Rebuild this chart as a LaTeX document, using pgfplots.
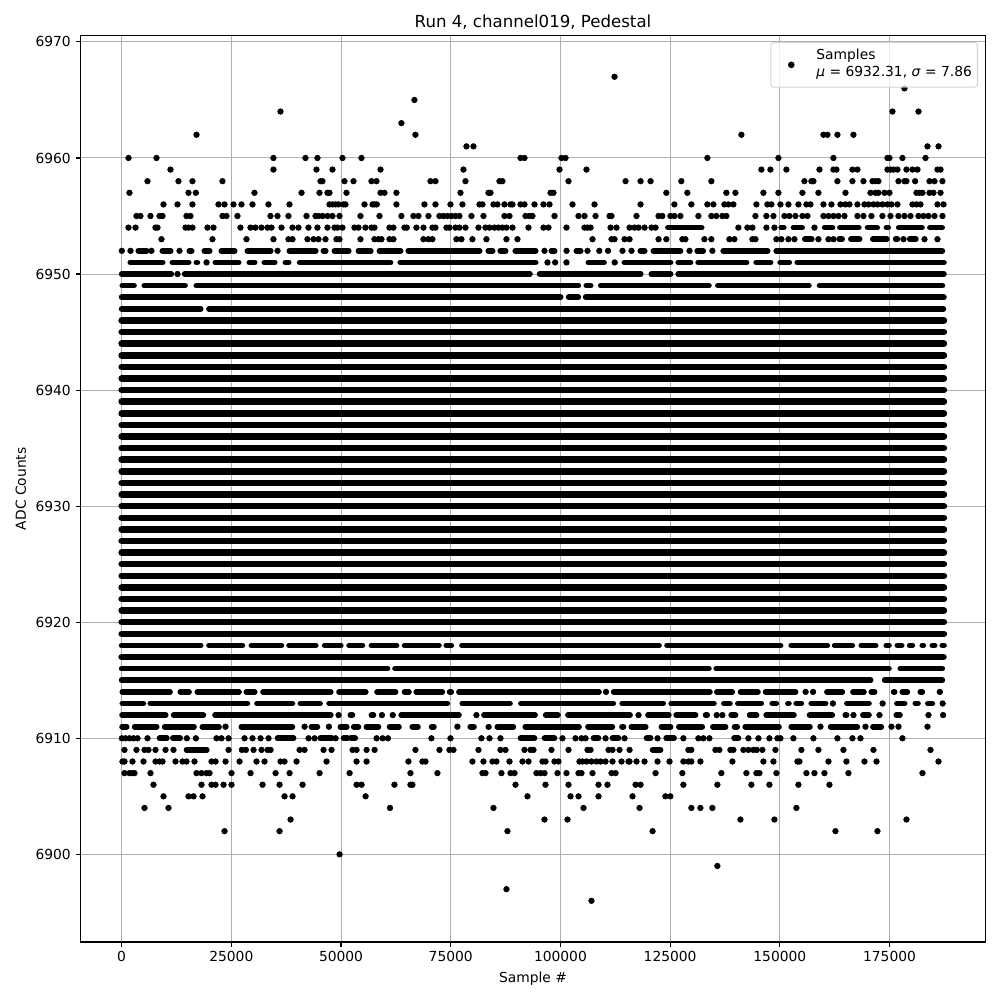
\documentclass[border=0pt]{standalone}
\usepackage{fontspec}
\setmainfont{DejaVu Sans}
\usepackage{pgfplots}
\pgfplotsset{compat=1.18}

\pgfplotsset{
    seg/.style={forget plot, black, line width=4.1pt, line cap=round, no markers, unbounded coords=jump},
    solid row/.style={seg, line width=4.7pt},
}

\begin{document}
\begin{tikzpicture}
\path[use as bounding box] (-58.18pt,-41.92pt) rectangle (664.52pt,680.78pt);
\begin{axis}[
    anchor=south west,
    at={(0,0)},
    scale only axis,
    width=654.04pt,
    height=655.1pt,
    xmin=-9375, xmax=196875,
    ymin=6892.45, ymax=6970.55,
    xtick={0,25000,50000,75000,100000,125000,150000,175000},
    ytick={6900,6910,6920,6930,6940,6950,6960,6970},
    scaled x ticks=false,
    scaled y ticks=false,
    /pgf/number format/fixed,
    /pgf/number format/precision=0,
    /pgf/number format/1000 sep={},
    /pgf/number format/assume math mode=true,
    tick label style={font=\fontsize{10}{12}\selectfont},
    label style={font=\fontsize{10}{12}\selectfont},
    title style={font=\fontsize{12}{14}\selectfont, yshift=-5pt},
    tick align=outside,
    tick pos=lower,
    major tick length=3.5pt,
    tick style={black, line width=0.8pt},
    axis line style={black, line width=0.8pt},
    grid=major,
    grid style={color={rgb,255:red,176;green,176;blue,176}, line width=0.75pt},
    title={Run 4, channel019, Pedestal},
    xlabel={Sample \#},
    ylabel={ADC Counts},
    legend style={
        at={(1,1)}, anchor=north east, xshift=-5.4pt, yshift=-4.7pt,
        draw={rgb,255:red,204;green,204;blue,204}, draw opacity=0.8,
        fill=white, fill opacity=0.8, text opacity=1,
        rounded corners=2pt, line width=0.8pt,
        font=\fontsize{10}{12.3}\selectfont,
        cells={anchor=west},
        inner xsep=2pt, inner ysep=2pt,
        minimum height=28.2pt,
    },
]
% rows that are solid from end to end
\addplot[solid row] coordinates {
(0,6919)(187400,6919)(0,nan)(0,6920)(187400,6920)(0,nan)(0,6921)(187400,6921)(0,nan)(0,6922)(187400,6922)(0,nan)
(0,6923)(187400,6923)(0,nan)(0,6924)(187400,6924)(0,nan)(0,6925)(187400,6925)(0,nan)(0,6926)(187400,6926)(0,nan)
(0,6927)(187400,6927)(0,nan)(0,6928)(187400,6928)(0,nan)(0,6929)(187400,6929)(0,nan)(0,6930)(187400,6930)(0,nan)
(0,6931)(187400,6931)(0,nan)(0,6932)(187400,6932)(0,nan)(0,6933)(187400,6933)(0,nan)(0,6934)(187400,6934)(0,nan)
(0,6935)(187400,6935)(0,nan)(0,6936)(187400,6936)(0,nan)(0,6937)(187400,6937)(0,nan)(0,6938)(187400,6938)(0,nan)
(0,6939)(187400,6939)(0,nan)(0,6940)(187400,6940)(0,nan)(0,6941)(187400,6941)(0,nan)(0,6942)(187400,6942)(0,nan)
(0,6943)(187400,6943)(0,nan)(0,6944)(187400,6944)(0,nan)(0,6945)(187400,6945)(0,nan)(0,6946)(187400,6946)(0,nan)
(0,6917)(187300,6917)(0,nan)
};
% runs of overlapping samples, upper rows
\addplot[seg] coordinates {
(0,6947)(18020,6947)(0,nan)(19900,6947)(187300,6947)(0,nan)
(0,6948)(100060,6948)(0,nan)(101870,6948)(104090,6948)(0,nan)(105740,6948)(187400,6948)(0,nan)
(150,6949)(2820,6949)(0,nan)(5160,6949)(14450,6949)(0,nan)(17020,6949)(104090,6949)(0,nan)(105900,6949)(106900,6949)(0,nan)(109170,6949)(133840,6949)(0,nan)(135880,6949)(156640,6949)(0,nan)(159060,6949)(187060,6949)(0,nan)
(0,6950)(11330,6950)(0,nan)(14360,6950)(93060,6950)(0,nan)(95260,6950)(118300,6950)(0,nan)(120720,6950)(125100,6950)(0,nan)(126840,6950)(187400,6950)(0,nan)
(1970,6951)(9360,6951)(0,nan)(11550,6951)(15280,6951)(0,nan)(17020,6951)(17260,6951)(0,nan)(21350,6951)(26680,6951)(0,nan)(29100,6951)(30330,6951)(0,nan)(32520,6951)(34890,6951)(0,nan)(37310,6951)(38080,6951)(0,nan)(40580,6951)(61300,6951)(0,nan)(63490,6951)(94360,6951)(0,nan)(106360,6951)(109940,6951)(0,nan)(114560,6951)(125100,6951)(0,nan)(126840,6951)(129660,6951)(0,nan)(131400,6951)(142430,6951)(0,nan)(144620,6951)(147900,6951)(0,nan)(150090,6951)(152160,6951)(0,nan)(153970,6951)(187400,6951)(0,nan)
(3800,6952)(5710,6952)(0,nan)(9270,6952)(11180,6952)(0,nan)(15420,6952)(15970,6952)(0,nan)(18840,6952)(20070,6952)(0,nan)(22720,6952)(25770,6952)(0,nan)(28650,6952)(33980,6952)(0,nan)(38220,6952)(44240,6952)(0,nan)(45980,6952)(46520,6952)(0,nan)(48480,6952)(51760,6952)(0,nan)(53960,6952)(56780,6952)(0,nan)(58740,6952)(63580,6952)(0,nan)(65320,6952)(81590,6952)(0,nan)(83560,6952)(84560,6952)(0,nan)(86290,6952)(87520,6952)(0,nan)(89710,6952)(94360,6952)(0,nan)(97920,6952)(98690,6952)(0,nan)(103620,6952)(104620,6952)(0,nan)(118210,6952)(119210,6952)(0,nan)(121180,6952)(127380,6952)(0,nan)(131170,6952)(132550,6952)(0,nan)(137100,6952)(147220,6952)(0,nan)(149180,6952)(187040,6952)(0,nan)
(155700,6953)(157300,6953)(0,nan)(163500,6953)(164200,6953)(0,nan)(166200,6953)(168200,6953)(0,nan)(171200,6953)(174400,6953)(0,nan)(176400,6953)(176800,6953)(0,nan)(179600,6953)(181000,6953)(0,nan)
(124500,6954)(132200,6954)(0,nan)(150300,6954)(150900,6954)(0,nan)(153100,6954)(155100,6954)(0,nan)(160200,6954)(162000,6954)(0,nan)(163700,6954)(168000,6954)(0,nan)(170000,6954)(172200,6954)(0,nan)(174300,6954)(174700,6954)(0,nan)(177100,6954)(182400,6954)(0,nan)(184200,6954)(187000,6954)(0,nan)
};
% runs of overlapping samples, lower rows
\addplot[seg] coordinates {
(0,6916)(60600,6916)(0,nan)(62300,6916)(133840,6916)(0,nan)(135500,6916)(174880,6916)(0,nan)(177450,6916)(187040,6916)(0,nan)
(0,6915)(170700,6915)(0,nan)(173880,6915)(187040,6915)(0,nan)
(0,6918)(18020,6918)(0,nan)(19910,6918)(27520,6918)(0,nan)(29560,6918)(36410,6918)(0,nan)(38150,6918)(44240,6918)(0,nan)(46280,6918)(49940,6918)(0,nan)(51830,6918)(54880,6918)(0,nan)(56920,6918)(62670,6918)(0,nan)(64480,6918)(72320,6918)(0,nan)(73980,6918)(75130,6918)(0,nan)(77550,6918)(122480,6918)(0,nan)(124290,6918)(150180,6918)(0,nan)(152600,6918)(160820,6918)(0,nan)(162480,6918)(166520,6918)(0,nan)(168560,6918)(171840,6918)(0,nan)(174260,6918)(174880,6918)(0,nan)(176770,6918)(177770,6918)(0,nan)(179580,6918)(180200,6918)(0,nan)(182470,6918)(182710,6918)(0,nan)(184750,6918)(185290,6918)(0,nan)(187030,6918)(187420,6918)(0,nan)
(150,6914)(11030,6914)(0,nan)(13370,6914)(15360,6914)(0,nan)(17250,6914)(26760,6914)(0,nan)(28420,6914)(30330,6914)(0,nan)(32220,6914)(47660,6914)(0,nan)(49540,6914)(55640,6914)(0,nan)(58210,6914)(62440,6914)(0,nan)(64480,6914)(65480,6914)(0,nan)(67140,6914)(73080,6914)(0,nan)(74740,6914)(75130,6914)(0,nan)(76870,6914)(108800,6914)(0,nan)(112130,6914)(134070,6914)(0,nan)(135650,6914)(139160,6914)(0,nan)(141050,6914)(145010,6914)(0,nan)(146750,6914)(153600,6914)(0,nan)(160730,6914)(164240,6914)(0,nan)(166660,6914)(169180,6914)(0,nan)(170840,6914)(171610,6914)(0,nan)(175930,6914)(176170,6914)(0,nan)(177910,6914)(179060,6914)(0,nan)(182010,6914)(182480,6914)(0,nan)
(150,6913)(4950,6913)(0,nan)(6530,6913)(28660,6913)(0,nan)(30850,6913)(38920,6913)(0,nan)(40730,6913)(45230,6913)(0,nan)(47270,6913)(74220,6913)(0,nan)(77630,6913)(88510,6913)(0,nan)(91000,6913)(112060,6913)(0,nan)(114080,6913)(123430,6913)(0,nan)(125240,6913)(134980,6913)(0,nan)(137250,6913)(138630,6913)(0,nan)(140440,6913)(145770,6913)(0,nan)(148270,6913)(149190,6913)(0,nan)(151840,6913)(152080,6913)(0,nan)(153740,6913)(154890,6913)(0,nan)(157160,6913)(160440,6913)(0,nan)(165290,6913)(170320,6913)(0,nan)(176690,6913)(178450,6913)(0,nan)(180870,6913)(181490,6913)(0,nan)(183760,6913)(184760,6913)(0,nan)
(100,6912)(10040,6912)(0,nan)(11850,6912)(18630,6912)(0,nan)(21280,6912)(47660,6912)(0,nan)(52130,6912)(52600,6912)(0,nan)(56920,6912)(57390,6912)(0,nan)(63720,6912)(76880,6912)(0,nan)(82570,6912)(94210,6912)(0,nan)(96640,6912)(99450,6912)(0,nan)(101720,6912)(115870,6912)(0,nan)(119960,6912)(124720,6912)(0,nan)(126380,6912)(130800,6912)(0,nan)(133070,6912)(133460,6912)(0,nan)(138920,6912)(139920,6912)(0,nan)(143100,6912)(144710,6912)(0,nan)(146900,6912)(153220,6912)(0,nan)(156780,6912)(161960,6912)(0,nan)(164910,6912)(165230,6912)(0,nan)(168940,6912)(170320,6912)(0,nan)(176540,6912)(177390,6912)(0,nan)
(100,6911)(1150,6911)(0,nan)(2960,6911)(7990,6911)(0,nan)(9800,6911)(16500,6911)(0,nan)(18390,6911)(22200,6911)(0,nan)(27280,6911)(38920,6911)(0,nan)(43240,6911)(44620,6911)(0,nan)(49850,6911)(51310,6911)(0,nan)(52890,6911)(53970,6911)(0,nan)(55780,6911)(58530,6911)(0,nan)(61060,6911)(63200,6911)(0,nan)(66230,6911)(67530,6911)(0,nan)(70640,6911)(71180,6911)(0,nan)(79450,6911)(80300,6911)(0,nan)(83560,6911)(83720,6911)(0,nan)(85610,6911)(89270,6911)(0,nan)(91990,6911)(104240,6911)(0,nan)(106280,6911)(111840,6911)(0,nan)(114030,6911)(114360,6911)(0,nan)(116160,6911)(119440,6911)(0,nan)(123000,6911)(125100,6911)(0,nan)(126990,6911)(132320,6911)(0,nan)(134740,6911)(137640,6911)(0,nan)(139680,6911)(140300,6911)(0,nan)(142110,6911)(149800,6911)(0,nan)(152600,6911)(156870,6911)(0,nan)(161570,6911)(167660,6911)(0,nan)(171220,6911)(173130,6911)(0,nan)
(8630,6910)(10300,6910)(0,nan)(11670,6910)(13340,6910)(0,nan)(35530,6910)(39180,6910)(0,nan)(45260,6910)(47920,6910)(0,nan)(50580,6910)(51490,6910)(0,nan)(52250,6910)(53240,6910)(0,nan)(90900,6910)(94090,6910)(0,nan)(96370,6910)(98650,6910)(0,nan)(107540,6910)(108680,6910)(0,nan)(111870,6910)(113240,6910)(0,nan)(119620,6910)(120540,6910)(0,nan)(124100,6910)(125900,6910)(0,nan)(139570,6910)(140560,6910)(0,nan)
(14780,6909)(19420,6909)(0,nan)(121000,6909)(122820,6909)(0,nan)
};
% single samples that stand apart
\addplot[only marks, mark=*, mark size=2.05pt, mark options={fill=black, draw=none},
    legend image code/.code={\fill[black, fill opacity=1, overlay] (0pt,0pt) circle (2.05pt); \path (-12.4pt,0pt) (15.75pt,0pt);}] coordinates {
(112330,6967)(178410,6966)(66730,6965)
(36200,6964)(175670,6964)(181600,6964)
(63760,6963)
(17060,6962)(66960,6962)(141240,6962)(159940,6962)(160850,6962)(163130,6962)(166780,6962)
(78580,6961)(80180,6961)(183650,6961)(186160,6961)
(1560,6960)(7940,6960)(34600,6960)(41900,6960)(44630,6960)(50330,6960)(54660,6960)(90900,6960)(91810,6960)(100240,6960)(101160,6960)(133490,6960)(149680,6960)(162220,6960)(174530,6960)(174990,6960)(177950,6960)(183200,6960)
(11130,6959)(34600,6959)(44400,6959)(48050,6959)(59000,6959)(77900,6959)(99790,6959)(105940,6959)(145800,6959)(147860,6959)(151500,6959)(159030,6959)(162220,6959)(162900,6959)(166550,6959)(167690,6959)(174530,6959)(175220,6959)(175900,6959)(176810,6959)(178860,6959)(180230,6959)(181370,6959)(185930,6959)(186620,6959)
(5890,6958)(12950,6958)(16140,6958)(22980,6958)(45320,6958)(45770,6958)(50790,6958)(52840,6958)(56940,6958)(58080,6958)(70380,6958)(71520,6958)(78360,6958)(86110,6958)(86790,6958)(101840,6958)(114840,6958)(118260,6958)(120540,6958)(127560,6958)(134400,6958)(155610,6958)(157200,6958)(157660,6958)(163130,6958)(166550,6958)(169060,6958)(171110,6958)(171800,6958)(172480,6958)(177040,6958)(178410,6958)(178860,6958)(180840,6958)(184110,6958)(185250,6958)(187070,6958)
(1790,6957)(15230,6957)(16900,6957)(30270,6957)(41000,6957)(45090,6957)(46910,6957)(47370,6957)(51240,6957)(59000,6957)(59900,6957)(62620,6957)(77220,6957)(83600,6957)(84060,6957)(97740,6957)(98420,6957)(124140,6957)(128930,6957)(137820,6957)(139880,6957)(146260,6957)(149680,6957)(155150,6957)(158800,6957)(164960,6957)(170660,6957)(171800,6957)(172480,6957)(173850,6957)(174990,6957)(181140,6957)(181830,6957)(182510,6957)(184110,6957)(185020,6957)(186620,6957)
(9540,6956)(12730,6956)(16140,6956)(22070,6956)(23440,6956)(25490,6956)(27310,6956)(29820,6956)(33460,6956)(38250,6956)(47370,6956)(48050,6956)(48730,6956)(49420,6956)(50560,6956)(51010,6956)(55350,6956)(57170,6956)(57620,6956)(58150,6956)(62620,6956)(69010,6956)(71520,6956)(74940,6956)(77670,6956)(81550,6956)(82230,6956)(84740,6956)(85650,6956)(87250,6956)(88620,6956)(89070,6956)(90900,6956)(91810,6956)(94090,6956)(96140,6956)(97510,6956)(102750,6956)(107770,6956)(118260,6956)(125970,6956)(129840,6956)(133490,6956)(134860,6956)(137370,6956)(138280,6956)(139420,6956)(144660,6956)(147170,6956)(148080,6956)(150140,6956)(151960,6956)(154240,6956)(156060,6956)(156980,6956)(159940,6956)(161760,6956)(163820,6956)(164960,6956)(165870,6956)(167690,6956)(169290,6956)(170200,6956)(171340,6956)(172250,6956)(173390,6956)(174530,6956)(175440,6956)(176810,6956)(180230,6956)(181140,6956)(182060,6956)(185930,6956)(187300,6956)
(3380,6955)(4290,6955)(6570,6955)(8620,6955)(9310,6955)(14780,6955)(15690,6955)(22980,6955)(23890,6955)(26400,6955)(33920,6955)(35520,6955)(38020,6955)(42130,6955)(44180,6955)(44860,6955)(45770,6955)(46910,6955)(48050,6955)(49650,6955)(54430,6955)(58760,6955)(63760,6955)(66500,6955)(67640,6955)(69920,6955)(72430,6955)(73340,6955)(74250,6955)(75160,6955)(76080,6955)(76990,6955)(79720,6955)(82460,6955)(87250,6955)(88390,6955)(92040,6955)(92950,6955)(93630,6955)(98650,6955)(104120,6955)(105490,6955)(108000,6955)(111190,6955)(111640,6955)(117340,6955)(122360,6955)(123230,6955)(125060,6955)(125970,6955)(127340,6955)(131440,6955)(134400,6955)(135540,6955)(136910,6955)(137820,6955)(144440,6955)(146940,6955)(148540,6955)(151050,6955)(152190,6955)(153560,6955)(155150,6955)(156290,6955)(159940,6955)(161080,6955)(162220,6955)(163360,6955)(164730,6955)(167690,6955)(169060,6955)(170880,6955)(173390,6955)(175220,6955)(177040,6955)(178410,6955)(179780,6955)(181600,6955)(182740,6955)(183880,6955)(185250,6955)(187070,6955)
(1560,6954)(3160,6954)(7710,6954)(8170,6954)(14550,6954)(15230,6954)(16140,6954)(19560,6954)(20930,6954)(27080,6954)(29360,6954)(30500,6954)(31870,6954)(33240,6954)(34150,6954)(36430,6954)(38940,6954)(40300,6954)(42580,6954)(44630,6954)(46910,6954)(48510,6954)(49190,6954)(50330,6954)(53060,6954)(53980,6954)(55570,6954)(56940,6954)(57620,6954)(61040,6954)(61940,6954)(64450,6954)(64980,6954)(67180,6954)(68780,6954)(70830,6954)(71520,6954)(74020,6954)(74710,6954)(76080,6954)(76990,6954)(78360,6954)(81320,6954)(82920,6954)(83830,6954)(84970,6954)(85880,6954)(86790,6954)(87700,6954)(89070,6954)(92720,6954)(96140,6954)(97280,6954)(101380,6954)(105490,6954)(106170,6954)(106860,6954)(111420,6954)(112780,6954)(115750,6954)(116890,6954)(117800,6954)(119170,6954)(120760,6954)(121680,6954)(140560,6954)(142610,6954)(143750,6954)(146940,6954)(148770,6954)(157890,6954)
(9080,6953)(20700,6953)(28450,6953)(34600,6953)(38020,6953)(38940,6953)(42350,6953)(43720,6953)(44860,6953)(46460,6953)(48960,6953)(49650,6953)(54430,6953)(57620,6953)(58530,6953)(59220,6953)(61040,6953)(61940,6953)(68780,6953)(69920,6953)(70830,6953)(76300,6953)(77440,6953)(79950,6953)(83140,6953)(87700,6953)(90210,6953)(107310,6953)(111640,6953)(112330,6953)(114610,6953)(115750,6953)(122360,6953)(124140,6953)(127790,6953)(128480,6953)(132810,6953)(134400,6953)(138510,6953)(139650,6953)(143750,6953)(144440,6953)(149220,6953)(150360,6953)(151960,6953)(153330,6953)(158800,6953)(161080,6953)(162220,6953)(178180,6953)(182970,6953)(185930,6953)
(40,6952)(2020,6952)(6800,6952)(13190,6952)(35530,6952)(96370,6952)(101400,6952)(106170,6952)(108870,6952)(110850,6952)(114150,6952)(116200,6952)(129420,6952)(134630,6952)
(19350,6951)(97050,6951)(98800,6951)(101380,6951)(112370,6951)
(12730,6950)
(110390,6914)(155880,6914)(157580,6914)(186460,6914)
(162100,6913)(173430,6913)(187110,6913)
(49440,6912)(59320,6912)(61790,6912)(80860,6912)(117800,6912)(135620,6912)(136910,6912)(166780,6912)(172710,6912)(183880,6912)(187220,6912)
(23680,6911)(41690,6911)(47240,6911)(76530,6911)(159260,6911)(169520,6911)(175440,6911)(177040,6911)(183650,6911)
(40,6910)(880,6910)(1790,6910)(2700,6910)(3610,6910)(5890,6910)(14860,6910)(16910,6910)(21620,6910)(22760,6910)(24360,6910)(28010,6910)(29830,6910)(31660,6910)(33480,6910)(42600,6910)(43970,6910)(48760,6910)(58100,6910)(59470,6910)(60700,6910)(70600,6910)(74940,6910)(82000,6910)(83830,6910)(86340,6910)(100470,6910)(103440,6910)(104800,6910)(105720,6910)(110280,6910)(114610,6910)(122130,6910)(128020,6910)(131440,6910)(132580,6910)(133950,6910)(142840,6910)(145120,6910)(147630,6910)(149450,6910)(150140,6910)(153100,6910)(157660,6910)(163130,6910)(166550,6910)(168380,6910)(177950,6910)
(650,6909)(3380,6909)(5210,6909)(6120,6909)(7720,6909)(10000,6909)(11820,6909)(24360,6909)(27400,6909)(28310,6909)(30060,6909)(31880,6909)(33250,6909)(33940,6909)(40550,6909)(41690,6909)(46020,6909)(47840,6909)(52630,6909)(53540,6909)(55820,6909)(57650,6909)(66960,6909)(72430,6909)(74710,6909)(75620,6909)(81320,6909)(86340,6909)(87480,6909)(91810,6909)(93180,6909)(93860,6909)(97960,6909)(101840,6909)(106170,6909)(106860,6909)(110960,6909)(111870,6909)(113470,6909)(115750,6909)(129160,6909)(129840,6909)(135320,6909)(136230,6909)(138740,6909)(139420,6909)(141700,6909)(142840,6909)(143980,6909)(144740,6909)(146030,6909)(149000,6909)(154920,6909)(158800,6909)(164500,6909)(171340,6909)(184340,6909)
(190,6908)(650,6908)(2470,6908)(4980,6908)(7720,6908)(8630,6908)(9310,6908)(12280,6908)(13870,6908)(14780,6908)(16610,6908)(20480,6908)(21400,6908)(23680,6908)(26870,6908)(30740,6908)(32570,6908)(36220,6908)(37130,6908)(39860,6908)(46700,6908)(53540,6908)(55820,6908)(65360,6908)(68550,6908)(69240,6908)(79950,6908)(82460,6908)(84510,6908)(85420,6908)(88390,6908)(91350,6908)(92720,6908)(95910,6908)(96600,6908)(98650,6908)(99560,6908)(104350,6908)(105030,6908)(105940,6908)(107080,6908)(108220,6908)(109140,6908)(110280,6908)(111870,6908)(113920,6908)(115520,6908)(115750,6908)(117340,6908)(119170,6908)(122130,6908)(124870,6908)(128020,6908)(129160,6908)(129840,6908)(131900,6908)(139190,6908)(146260,6908)(148540,6908)(154010,6908)(154470,6908)(161080,6908)(165180,6908)(169290,6908)(172030,6908)(186160,6908)
(650,6907)(1790,6907)(2470,6907)(2930,6907)(6580,6907)(17060,6907)(18200,6907)(19340,6907)(20030,6907)(25040,6907)(29380,6907)(35080,6907)(38270,6907)(45110,6907)(51950,6907)(65820,6907)(71970,6907)(82230,6907)(82920,6907)(86560,6907)(88620,6907)(89530,6907)(94540,6907)(95460,6907)(96370,6907)(99330,6907)(101380,6907)(104120,6907)(104800,6907)(107310,6907)(111640,6907)(112560,6907)(121680,6907)(127790,6907)(136680,6907)(142380,6907)(144660,6907)(145350,6907)(149220,6907)(156060,6907)(157890,6907)(160170,6907)(165640,6907)(182510,6907)
(7260,6906)(18200,6906)(20480,6906)(21400,6906)(23220,6906)(25040,6906)(32110,6906)(35990,6906)(41230,6906)(53540,6906)(54680,6906)(62170,6906)(65820,6906)(66270,6906)(89760,6906)(96600,6906)(101840,6906)(108680,6906)(110730,6906)(117120,6906)(118260,6906)(128020,6906)(135770,6906)(143520,6906)(147630,6906)(154240,6906)(161310,6906)
(9540,6905)(15240,6905)(16380,6905)(18430,6905)(37130,6905)(38950,6905)(55600,6905)(92490,6905)(102300,6905)(104120,6905)(108680,6905)(116430,6905)(123920,6905)(125060,6905)
(5210,6904)(10680,6904)(61160,6904)(84740,6904)(105260,6904)(118030,6904)(129840,6904)(131900,6904)(134630,6904)(153780,6904)
(38500,6903)(96370,6903)(101610,6903)(141020,6903)(148770,6903)(178860,6903)
(23450,6902)(35990,6902)(87930,6902)(121000,6902)(162680,6902)(172250,6902)
(49670,6900)(135770,6899)(87700,6897)(107080,6896)
};
\addlegendentry{\raisebox{-3pt}[0pt][0pt]{\begin{tabular}{@{}l@{}}Samples\\\textit{μ} = 6932.31, \textit{σ} = 7.86\end{tabular}}}
\end{axis}
\end{tikzpicture}
\end{document}
